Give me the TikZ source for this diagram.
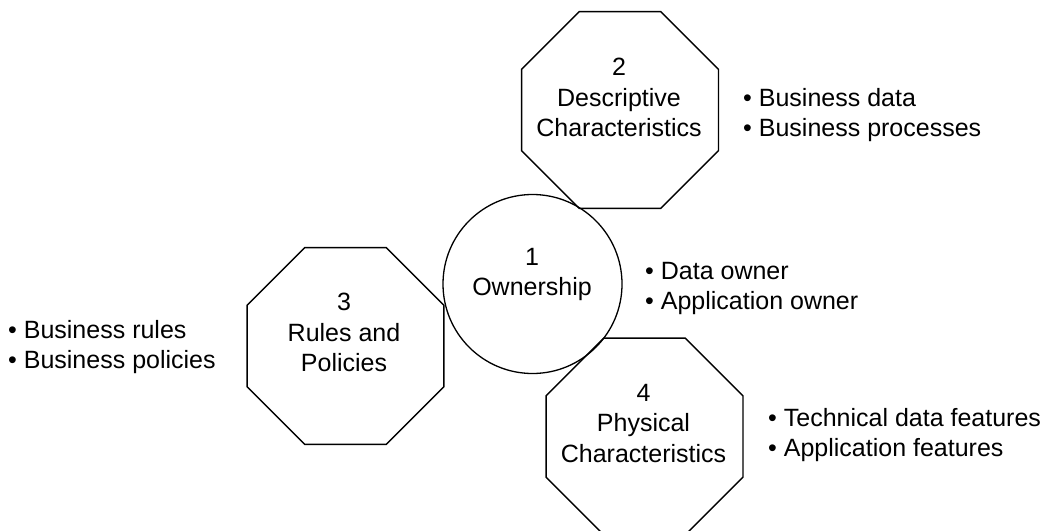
\documentclass[tikz,border=0pt]{standalone}
\usepackage{fontspec}
\setmainfont{Liberation Sans}
\usetikzlibrary{shapes.geometric}

\begin{document}
\begin{tikzpicture}[x=1pt, y=-1pt,
        octa/.style={draw, line width=1.3pt, regular polygon, regular polygon sides=8, minimum size=213pt, inner sep=0pt},
        roundbox/.style={draw, line width=1.3pt, circle, minimum size=179pt, inner sep=0pt},
        lbl/.style={align=center, font=\fontsize{25}{30.5}\selectfont, inner sep=0pt},
        items/.style={align=left, anchor=north west, font=\fontsize{25}{30}\selectfont, inner sep=0pt}]
        \useasboundingbox (0,0) rectangle (1048,530);

        % we draw the four shapes
        \node[octa] (desc) at (620,110) {};
        \node[roundbox] (own) at (532.5,284) {};
        \node[octa] (rules) at (345.5,346) {};
        \node[octa] (phys) at (644.5,436.5) {};

        % we add the titles inside the shapes
        \node[lbl] (desctxt) at (619,97.6) {2\\Descriptive\\Characteristics};
        \node[lbl] (owntxt) at (532,274.5) {1\\Ownership};
        \node[lbl] (rulestxt) at (344,332.5) {3\\Rules and\\Policies};
        \node[lbl] (phystxt) at (643.5,423.5) {4\\Physical\\Characteristics};

        % we add the bullet lists
        \node[items] (desclist) at (743,88) {\textbullet\ Business data\\\textbullet\ Business processes};
        \node[items] (ownlist) at (645,262) {\textbullet\ Data owner\\\textbullet\ Application owner};
        \node[items] (ruleslist) at (8,320) {\textbullet\ Business rules\\\textbullet\ Business policies};
        \node[items] (physlist) at (768,408) {\textbullet\ Technical data features\\\textbullet\ Application features};
    \end{tikzpicture}
\end{document}
